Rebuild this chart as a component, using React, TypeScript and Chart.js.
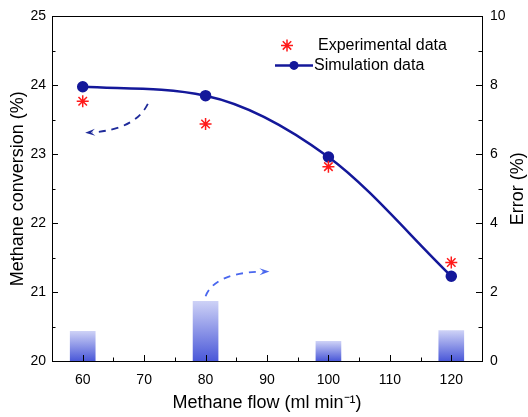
import { useEffect, useRef } from "react";
import { Chart, registerables } from "chart.js";
Chart.register(...registerables);

const flows = [60, 80, 100, 120];
const experimental = [23.77, 23.44, 22.82, 21.43];
const simulation = [23.98, 23.85, 22.96, 21.23];
const errors = [0.86, 1.73, 0.57, 0.88];
const xTicks = [60, 70, 80, 90, 100, 110, 120];
const yTicks = [20, 21, 22, 23, 24, 25];
const y2Ticks = [0, 2, 4, 6, 8, 10];
const xMinor = [65, 75, 85, 95, 105, 115];
const yMinor = [20.5, 21.5, 22.5, 23.5, 24.5];
const y2Minor = [1, 3, 5, 7, 9];

// annotation arrows in data units (x, left-axis y)
const arrowLeft = { from: [70.6, 23.73], ctrl: [68.5, 23.36], to: [60.4, 23.31], color: "#1e2a9a" };
const arrowRight = { from: [80.0, 20.94], ctrl: [81.5, 21.28], to: [90.4, 21.3], color: "#4a67ee" };

const FONT = "'Liberation Sans', Arial, sans-serif";

const framePlugin = {
  id: "frame",
  afterDatasetsDraw(chart: any) {
    const { ctx, chartArea: a, scales } = chart;
    ctx.save();
    ctx.strokeStyle = "#000";
    ctx.lineWidth = 1;
    ctx.beginPath();
    const major = 6, minor = 3.5;
    const vt = (vals: number[], len: number) => {
      vals.forEach((v) => {
        const px = Math.round(scales.x.getPixelForValue(v)) + 0.5;
        ctx.moveTo(px, a.bottom);
        ctx.lineTo(px, a.bottom - len);
      });
    };
    const ht = (scale: any, vals: number[], len: number, left: boolean) => {
      vals.forEach((v) => {
        const py = Math.round(scale.getPixelForValue(v)) + 0.5;
        if (left) {
          ctx.moveTo(a.left, py);
          ctx.lineTo(a.left + len, py);
        } else {
          ctx.moveTo(a.right, py);
          ctx.lineTo(a.right - len, py);
        }
      });
    };
    vt(xTicks, major);
    vt(xMinor, minor);
    ht(scales.y, yTicks, major, true);
    ht(scales.y, yMinor, minor, true);
    ht(scales.y2, y2Ticks, major, false);
    ht(scales.y2, y2Minor, minor, false);
    ctx.stroke();
    ctx.strokeRect(Math.round(a.left) + 0.5, Math.round(a.top) + 0.5, Math.round(a.right - a.left), Math.round(a.bottom - a.top));

    // arrows
    const drawArrow = (ar: any) => {
      const p0 = [scales.x.getPixelForValue(ar.from[0]), scales.y.getPixelForValue(ar.from[1])];
      const c = [scales.x.getPixelForValue(ar.ctrl[0]), scales.y.getPixelForValue(ar.ctrl[1])];
      const p2 = [scales.x.getPixelForValue(ar.to[0]), scales.y.getPixelForValue(ar.to[1])];
      const ang = Math.atan2(p2[1] - c[1], p2[0] - c[0]);
      const hl = 10;
      const bx = p2[0] - Math.cos(ang) * hl * 0.7;
      const by = p2[1] - Math.sin(ang) * hl * 0.7;
      ctx.strokeStyle = ar.color;
      ctx.fillStyle = ar.color;
      ctx.lineWidth = 1.8;
      ctx.setLineDash([7, 6]);
      ctx.beginPath();
      ctx.moveTo(p0[0], p0[1]);
      ctx.quadraticCurveTo(c[0], c[1], bx, by);
      ctx.stroke();
      ctx.setLineDash([]);
      ctx.beginPath();
      ctx.moveTo(p2[0], p2[1]);
      ctx.lineTo(p2[0] - Math.cos(ang) * hl - Math.sin(ang) * 3.5, p2[1] - Math.sin(ang) * hl + Math.cos(ang) * 3.5);
      ctx.lineTo(p2[0] - Math.cos(ang) * hl * 0.6, p2[1] - Math.sin(ang) * hl * 0.6);
      ctx.lineTo(p2[0] - Math.cos(ang) * hl + Math.sin(ang) * 3.5, p2[1] - Math.sin(ang) * hl - Math.cos(ang) * 3.5);
      ctx.closePath();
      ctx.fill();
    };
    drawArrow(arrowLeft);
    drawArrow(arrowRight);

    // legend
    const lx = a.left + 235;
    const ly1 = a.top + 29;
    const ly2 = a.top + 49;
    ctx.strokeStyle = "#ff1a1a";
    ctx.lineWidth = 1.5;
    ctx.beginPath();
    const r = 6;
    for (let k = 0; k < 4; k++) {
      const t = (k * Math.PI) / 4;
      ctx.moveTo(lx + Math.cos(t) * r, ly1 + Math.sin(t) * r);
      ctx.lineTo(lx - Math.cos(t) * r, ly1 - Math.sin(t) * r);
    }
    ctx.stroke();
    ctx.strokeStyle = "#14189a";
    ctx.fillStyle = "#14189a";
    ctx.lineWidth = 2.5;
    ctx.beginPath();
    ctx.moveTo(a.left + 223, ly2);
    ctx.lineTo(a.left + 261, ly2);
    ctx.stroke();
    ctx.beginPath();
    ctx.arc(a.left + 242, ly2, 4.5, 0, Math.PI * 2);
    ctx.fill();
    ctx.fillStyle = "#000";
    ctx.font = `16px ${FONT}`;
    ctx.textBaseline = "middle";
    ctx.textAlign = "left";
    ctx.fillText("Experimental data", a.left + 266, ly1);
    ctx.fillText("Simulation data", a.left + 262, ly2);

    // right axis title (reads bottom-to-top)
    ctx.save();
    ctx.translate(a.right + 36, (a.top + a.bottom) / 2);
    ctx.rotate(-Math.PI / 2);
    ctx.font = `18px ${FONT}`;
    ctx.textAlign = "center";
    ctx.textBaseline = "middle";
    ctx.fillText("Error (%)", 0, 0);
    ctx.restore();
    ctx.restore();
  },
};

export default function App() {
  const ref = useRef<HTMLCanvasElement>(null);
  useEffect(() => {
    document.body.style.margin = "0";
    const chart = new Chart(ref.current!, {
      type: "bar",
      data: {
        datasets: [
          {
            type: "line",
            label: "Simulation data",
            data: flows.map((x, i) => ({ x, y: simulation[i] })),
            yAxisID: "y",
            borderColor: "#14189a",
            backgroundColor: "#14189a",
            borderWidth: 2.5,
            pointRadius: 4.5,
            pointStyle: "circle",
            cubicInterpolationMode: "monotone",
            order: 1,
          } as any,
          {
            type: "line",
            label: "Experimental data",
            data: flows.map((x, i) => ({ x, y: experimental[i] })),
            yAxisID: "y",
            showLine: false,
            pointStyle: "star",
            pointRadius: 6,
            borderColor: "#ff1a1a",
            backgroundColor: "#ff1a1a",
            pointBorderWidth: 1.5,
            order: 0,
          } as any,
          {
            type: "bar",
            label: "Error",
            data: flows.map((x, i) => ({ x, y: errors[i] })),
            yAxisID: "y2",
            barThickness: 25,
            backgroundColor: (ctx: any) => {
              const chart = ctx.chart;
              const s = chart.scales.y2;
              const v = ctx.raw ? ctx.raw.y : 0;
              if (!s || !chart.chartArea) return "#8f9ae8";
              const top = s.getPixelForValue(v);
              const bot = s.getPixelForValue(0);
              const g = chart.ctx.createLinearGradient(0, top, 0, bot);
              g.addColorStop(0, "#cdd1f6");
              g.addColorStop(1, "#4a58d8");
              return g;
            },
            order: 5,
          } as any,
        ],
      },
      options: {
        animation: false,
        responsive: false,
        layout: { padding: { top: 15, right: 0, left: 0, bottom: 0 } },
        plugins: { legend: { display: false }, tooltip: { enabled: false } },
        scales: {
          x: {
            type: "linear",
            min: 55,
            max: 125,
            offset: false,
            afterBuildTicks: (s: any) => {
              s.ticks = xTicks.map((v) => ({ value: v }));
            },
            afterFit: (s: any) => {
              s.height = 56;
            },
            grid: { display: false, drawTicks: false, offset: false },
            border: { display: true, color: "#000" },
            ticks: { padding: 11, color: "#000", font: { family: FONT, size: 14 } },
            title: {
              display: true,
              text: "Methane flow (ml min⁻¹)",
              color: "#000",
              font: { family: FONT, size: 18 },
              padding: { top: 0, bottom: 3 },
            },
          },
          y: {
            type: "linear",
            position: "left",
            min: 20,
            max: 25,
            afterBuildTicks: (s: any) => {
              s.ticks = yTicks.map((v) => ({ value: v }));
            },
            afterFit: (s: any) => {
              s.width = 52;
            },
            grid: { display: false, drawTicks: false },
            border: { display: true, color: "#000" },
            ticks: { padding: 6, color: "#000", font: { family: FONT, size: 14 } },
            title: {
              display: true,
              text: "Methane conversion (%)",
              color: "#000",
              font: { family: FONT, size: 18 },
              padding: { top: 7, bottom: 0 },
            },
          },
          y2: {
            type: "linear",
            position: "right",
            min: 0,
            max: 10,
            afterBuildTicks: (s: any) => {
              s.ticks = y2Ticks.map((v) => ({ value: v }));
            },
            afterFit: (s: any) => {
              s.width = 46;
            },
            grid: { display: false, drawTicks: false },
            border: { display: true, color: "#000" },
            ticks: { padding: 8, color: "#000", font: { family: FONT, size: 14 } },
          },
        },
      },
      plugins: [framePlugin],
    } as any);
    return () => chart.destroy();
  }, []);
  return <canvas ref={ref} width={528} height={417} />;
}
